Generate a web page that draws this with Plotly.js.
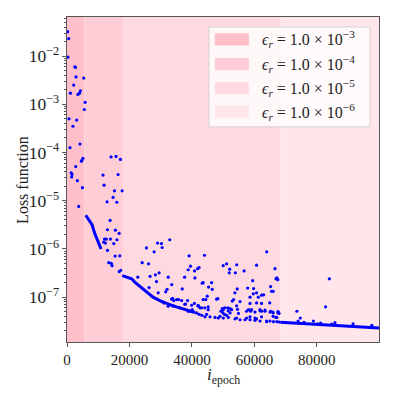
<!DOCTYPE html>
<html>
<head>
<meta charset="utf-8">
<script src="https://cdn.plot.ly/plotly-3.0.1.min.js"></script>
<style>
  body { margin: 0; background: #fff; }
  #graph { width: 397px; height: 397px; }
</style>
</head>
<body>
<div id="graph"></div>
<script>
// learning-rate phases (epoch where each shaded band ends)
const bandEdges = [0, 5600, 18000, 68300, 99900];
const bandLabels = ['1.0 × 10<sup>−3</sup>', '1.0 × 10<sup>−4</sup>', '1.0 × 10<sup>−5</sup>', '1.0 × 10<sup>−6</sup>'];

// smooth part of the loss (pieces separated by null)
const curveEpochs = [6000, 6960, 8010, 8880, 9940, 10900, null,
  17700, 19000, 20700, 21700, 23850, 25450, 27560, 29700, 31860, 35060, 38270, 41000, null,
  68300, 75000, 85000, 92000, 99900];
const curveLoss = [5.0e-6, 4.1e-6, 3.2e-6, 2.1e-6, 1.45e-6, 1.0e-6, null,
  2.8e-7, 2.6e-7, 2.4e-7, 2.05e-7, 1.58e-7, 1.32e-7, 1.0e-7, 8.5e-8, 7.4e-8, 6.3e-8, 5.4e-8, 4.8e-8, null,
  3.0e-8, 2.85e-8, 2.65e-8, 2.45e-8, 2.3e-8];

// scattered loss values
const epochs = [
  200, 550, 300, 2500, 2700, 2900, 5350, 2150, 1100, 4300, 4000, 3500, 5800, 5550, 650, 3100,
  1900, 4150, 950, 5100, 4600, 4750, 2800, 1350, 1600, 1500, 3330, 4940, 3750,
  14100, 15700, 17100, 11550, 16350, 11870, 15200, 17650, 14750, 12830, 15950, 13800,
  12950, 15500, 16700, 12000, 11770, 12300, 12600, 13900, 16000, 14970, 12950, 15400,
  16900, 13370, 14200, 14430, 16700, 17200,
  25450, 29000, 30250, 30470, 32900, 27900, 24060, 26100, 22680, 26600, 28300, 29500,
  28650, 32400, 26280, 29200, 31600, 32050, 33550, 33800, 34200, 35700, 36900, 37650,
  39100, 38800, 39550, 40830, 40950, 42300, 41800, 44030, 43300, 43600, 45330, 46300,
  46500, 47900, 48300, 44450, 44900, 43600, 44130, 45200, 50000, 51100, 52100, 51950,
  53900, 54350, 56700, 54500, 53750, 53350, 52900, 52200, 51600, 50000, 49850, 59450,
  57850, 59750, 60700, 59650, 62300, 62950, 61250, 58600, 60700, 63950, 66600, 67200,
  67500, 66900, 65200, 66000, 65500, 58600, 60700, 61800, 63400, 65200, 66000, 55400,
  54300, 54600, 62300, 64900, 38600, 67500, 67900, 67150,
  30400, 31000, 32400, 34000, 36100, 39300, 41500, 44700, 49000, 51100, 54300, 57500,
  60700, 63900, 67200, 33500, 35100, 36700, 38000, 42000, 43100, 45200, 50500, 52700,
  57500, 59100, 62300, 65000, 67600,
  37700, 39900, 40800, 42000, 40100, 42600, 49300, 49700, 51450, 50400, 52200, 54900,
  58100, 58800, 60200, 61800, 63400, 65900, 67700, 66000, 58600, 60200, 62300, 65000, 66900,
  42300, 43200, 44200, 45800, 47400, 48450, 50050, 51650, 53800, 55400, 57000, 58600,
  60200, 61800, 63950, 66100, 67900, 38800,
  84000, 82800, 73600, 74700, 74000, 75900, 78900, 80250, 81200, 84750, 85800, 91600, 97600
];
const loss = [
  3.2e-2, 2.3e-2, 9.5e-3, 6.0e-3, 5.8e-3, 3.7e-3, 3.5e-3, 2.5e-3, 1.7e-3, 1.9e-3, 1.7e-3, 1.6e-3, 1.1e-3, 7.8e-4, 5.0e-4, 4.7e-4,
  3.5e-4, 1.5e-4, 1.26e-4, 7.6e-5, 6.6e-5, 6.8e-5, 5.1e-5, 3.8e-5, 3.5e-5, 3.1e-5, 2.6e-5, 1.86e-5, 7.6e-6,
  8.1e-5, 8.3e-5, 7.2e-5, 3.4e-5, 3.5e-5, 2.1e-5, 1.6e-5, 1.6e-5, 1.17e-5, 9.5e-6, 9.3e-6, 3.9e-6,
  2.5e-6, 2.45e-6, 2.1e-6, 1.6e-6, 1.38e-6, 1.32e-6, 1.6e-6, 1.6e-6, 1.55e-6, 1.29e-6, 9.3e-7, 7.1e-7,
  7.2e-7, 5.2e-7, 5.0e-7, 4.5e-7, 3.4e-7, 3.6e-7,
  1.05e-6, 1.32e-6, 1.29e-6, 1.07e-6, 1.55e-6, 8.7e-7, 5.2e-7, 4.9e-7, 2.6e-7, 2.7e-7, 2.9e-7, 3.2e-7,
  2.1e-7, 2.6e-7, 1.58e-7, 1.23e-7, 1.29e-7, 1.45e-7, 1.82e-7, 9.5e-8, 8.5e-8, 8.9e-8, 1.48e-7, 2.6e-7,
  7.2e-7, 3.7e-7, 4.4e-7, 3.5e-7, 2.5e-7, 4.1e-7, 3.9e-7, 7.4e-7, 1.95e-7, 2.0e-7, 1.62e-7, 2.0e-7,
  1.45e-7, 9.1e-8, 9.3e-8, 8.9e-8, 1.05e-7, 8.9e-8, 6.0e-8, 6.3e-8, 4.5e-7, 4.9e-7, 3.8e-7, 3.2e-7,
  3.2e-7, 4.7e-7, 3.5e-7, 1.48e-7, 1.23e-7, 8.9e-8, 8.3e-8, 5.8e-8, 5.2e-8, 5.5e-8, 4.8e-8, 2.2e-7,
  1.55e-7, 1.51e-7, 1.23e-7, 1.17e-7, 1.1e-7, 1.12e-7, 1.0e-7, 1.0e-7, 4.6e-7, 8.7e-7, 3.9e-7, 2.5e-7,
  2.3e-7, 2.4e-7, 1.66e-7, 1.32e-7, 1.32e-7, 7.4e-8, 7.6e-8, 5.5e-8, 5.4e-8, 5.1e-8, 4.7e-8, 8.1e-8,
  6.6e-8, 5.6e-8, 7.4e-8, 7.6e-8, 8.5e-8, 5.0e-8, 4.6e-8, 3.8e-8,
  8.1e-8, 7.6e-8, 6.5e-8, 6.5e-8, 6.0e-8, 5.1e-8, 4.7e-8, 4.4e-8, 4.0e-8, 4.2e-8, 3.7e-8, 3.7e-8,
  3.55e-8, 3.2e-8, 3.1e-8, 9.1e-8, 8.9e-8, 8.5e-8, 7.2e-8, 6.5e-8, 6.0e-8, 5.5e-8, 6.0e-8, 5.5e-8,
  5.1e-8, 5.5e-8, 5.1e-8, 4.9e-8, 4.7e-8,
  7.1e-8, 6.8e-8, 7.4e-8, 6.8e-8, 5.5e-8, 6.0e-8, 5.1e-8, 5.8e-8, 6.0e-8, 4.4e-8, 4.7e-8, 4.6e-8,
  5.5e-8, 5.1e-8, 4.9e-8, 5.2e-8, 5.1e-8, 4.9e-8, 4.9e-8, 4.0e-8, 3.9e-8, 3.7e-8, 3.9e-8, 3.2e-8, 3.8e-8,
  4.4e-8, 4.2e-8, 3.9e-8, 3.9e-8, 3.8e-8, 3.7e-8, 3.7e-8, 3.8e-8, 3.55e-8, 3.4e-8, 3.4e-8, 3.4e-8,
  3.3e-8, 3.2e-8, 3.1e-8, 3.1e-8, 3.05e-8, 5.1e-8,
  2.4e-7, 6.3e-8, 5.1e-8, 3.7e-8, 3.2e-8, 3.0e-8, 3.2e-8, 2.8e-8, 2.9e-8, 2.75e-8, 2.95e-8, 2.8e-8, 2.6e-8
];

const bandColors = ['rgb(255,192,203)', 'rgb(255,205,213)', 'rgb(255,217,224)', 'rgb(255,230,234)'];
const serif = 'Liberation Serif, DejaVu Serif, serif';

const drawGraph = () => {
  const shapes = [];
  const annotations = [];
  for (let i = 0; i < bandColors.length; i++) {
    shapes.push({
      type: 'rect', xref: 'x', yref: 'paper', layer: 'below',
      x0: bandEdges[i], x1: bandEdges[i + 1], y0: 0, y1: 1,
      fillcolor: bandColors[i], line: { width: 0 }
    });
  }

  // hand-made legend box like matplotlib's
  shapes.push({
    type: 'rect', xref: 'paper', yref: 'paper',
    x0: 0.455, x1: 0.971, y0: 0.662, y1: 0.969,
    fillcolor: 'rgba(255,255,255,0.8)', line: { color: 'rgba(204,204,204,0.8)', width: 1 }
  });
  const rowY = [0.931, 0.855, 0.781, 0.709];
  for (let i = 0; i < bandLabels.length; i++) {
    shapes.push({
      type: 'rect', xref: 'paper', yref: 'paper',
      x0: 0.474, x1: 0.583, y0: rowY[i] - 0.019, y1: rowY[i] + 0.019,
      fillcolor: bandColors[i], line: { width: 0 }
    });
    annotations.push({
      xref: 'paper', yref: 'paper', x: 0.617, y: rowY[i],
      xanchor: 'left', yanchor: 'middle', showarrow: false,
      text: '<i>ϵ<sub>r</sub></i> = ' + bandLabels[i],
      font: { family: serif, size: 16, color: '#222' }
    });
  }

  // axis titles placed by hand (plotly puts them a bit too far out)
  annotations.push({
    xref: 'paper', yref: 'paper', x: -0.143, y: 0.5, textangle: -90,
    xanchor: 'center', yanchor: 'middle', showarrow: false,
    text: 'Loss function', font: { family: serif, size: 16, color: '#222' }
  });
  annotations.push({
    xref: 'paper', yref: 'paper', x: 0.5, y: -0.104,
    xanchor: 'center', yanchor: 'middle', showarrow: false,
    text: '<i>i</i><sub>epoch</sub>', font: { family: serif, size: 17, color: '#222' }
  });

  const trace1 = {
    x: curveEpochs, y: curveLoss,
    type: 'scatter', mode: 'lines',
    line: { color: '#0000ff', width: 3 },
    connectgaps: false, hoverinfo: 'skip'
  };
  const trace2 = {
    x: epochs, y: loss,
    type: 'scatter', mode: 'markers',
    marker: { color: '#0000ff', size: 3.2 }
  };

  const layout = {
    width: 397, height: 397,
    margin: { l: 67, r: 18, t: 17, b: 55 },
    paper_bgcolor: '#fff', plot_bgcolor: '#fff',
    showlegend: false,
    font: { family: serif, size: 15, color: '#222' },
    xaxis: {
      range: [0, 99900], dtick: 20000, tick0: 0, tickformat: 'd',
      showgrid: false, zeroline: false,
      showline: true, mirror: true, linecolor: '#555', linewidth: 1,
      ticks: 'outside', ticklen: 4, tickcolor: '#555'
    },
    yaxis: {
      type: 'log', range: [-7.93, -1.19], dtick: 1,
      exponentformat: 'power', showexponent: 'all',
      tickfont: { family: serif, size: 14 },
      showgrid: false, zeroline: false,
      showline: true, mirror: true, linecolor: '#555', linewidth: 1,
      ticks: 'outside', ticklen: 4, tickcolor: '#555',
      minor: { ticks: 'outside', ticklen: 2, tickcolor: '#555', dtick: 'D1', showgrid: false }
    },
    shapes: shapes,
    annotations: annotations
  };

  Plotly.newPlot('graph', [trace1, trace2], layout, { staticPlot: true });
};

drawGraph();
</script>
</body>
</html>
